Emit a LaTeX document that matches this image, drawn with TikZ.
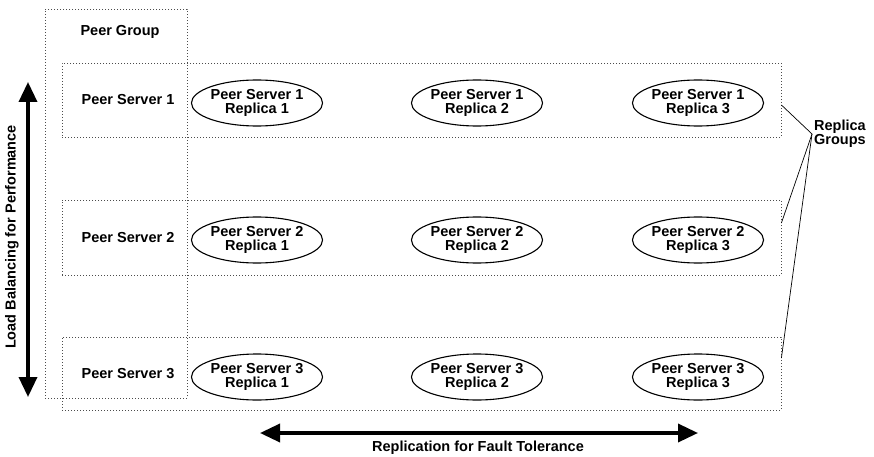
\documentclass[tikz,border=0pt]{standalone}
\usepackage{fontspec}
\setmainfont{Liberation Sans}
\usetikzlibrary{arrows.meta,shapes.geometric}
\begin{document}
\begin{tikzpicture}[x=1pt,y=-1pt,
    every node/.style={font=\bfseries\fontsize{14.5}{14}\selectfont},
    dotbox/.style={draw=black!70,line width=0.8pt,dash pattern=on 1pt off 2pt,inner sep=0pt},
    replica/.style={ellipse,draw,line width=1.1pt,minimum width=116pt,minimum height=46pt,inner sep=0pt,align=center},
    bigarrow/.style={line width=3.5pt,{Triangle[length=20pt,width=18pt]}-{Triangle[length=20pt,width=18pt]}}]
  \useasboundingbox (0,0) rectangle (874,457);
  % groups
  \node[dotbox,minimum width=142pt,minimum height=389pt] (pgroup) at (116,203.5) {};
  \node[dotbox,minimum width=719pt,minimum height=74pt] (row1) at (421.5,100) {};
  \node[dotbox,minimum width=719pt,minimum height=75pt] (row2) at (421.5,237.5) {};
  \node[dotbox,minimum width=719pt,minimum height=73pt] (row3) at (421.5,373.5) {};
  \node (pglabel) at (120,32) {Peer Group};
  \node (ps1) at (128,100) {Peer Server 1};
  \node (ps2) at (128,237.5) {Peer Server 2};
  \node (ps3) at (128,373.5) {Peer Server 3};
  % replicas
  \node[replica] (r11) at (257,103) {Peer Server 1\\Replica 1};
  \node[replica] (r12) at (477,103) {Peer Server 1\\Replica 2};
  \node[replica] (r13) at (698,103) {Peer Server 1\\Replica 3};
  \node[replica] (r21) at (257,240) {Peer Server 2\\Replica 1};
  \node[replica] (r22) at (477,240) {Peer Server 2\\Replica 2};
  \node[replica] (r23) at (698,240) {Peer Server 2\\Replica 3};
  \node[replica] (r31) at (257,377) {Peer Server 3\\Replica 1};
  \node[replica] (r32) at (477,377) {Peer Server 3\\Replica 2};
  \node[replica] (r33) at (698,377) {Peer Server 3\\Replica 3};
  % replica groups
  \coordinate (rgtip) at (812,134);
  \node[anchor=west,align=left,inner sep=2pt] (rglabel) at (rgtip) {Replica\\Groups};
  \draw[line width=0.7pt] ([yshift=-5pt]row1.east) -- (rgtip) -- ([yshift=14.5pt]row2.east);
  \draw[line width=0.7pt] (rgtip) -- ([yshift=15.5pt]row3.east);
  % arrows
  \coordinate (lbtop) at (28,82);
  \coordinate (lbbot) at (28,397);
  \draw[bigarrow] (lbtop) -- (lbbot);
  \node[rotate=90] (lblabel) at (12,237) {Load Balancing for Performance};
  \coordinate (rfleft) at (260,433);
  \coordinate (rfright) at (698,433);
  \draw[bigarrow] (rfleft) -- (rfright);
  \node (rflabel) at (478,448) {Replication for Fault Tolerance};
\end{tikzpicture}
\end{document}
